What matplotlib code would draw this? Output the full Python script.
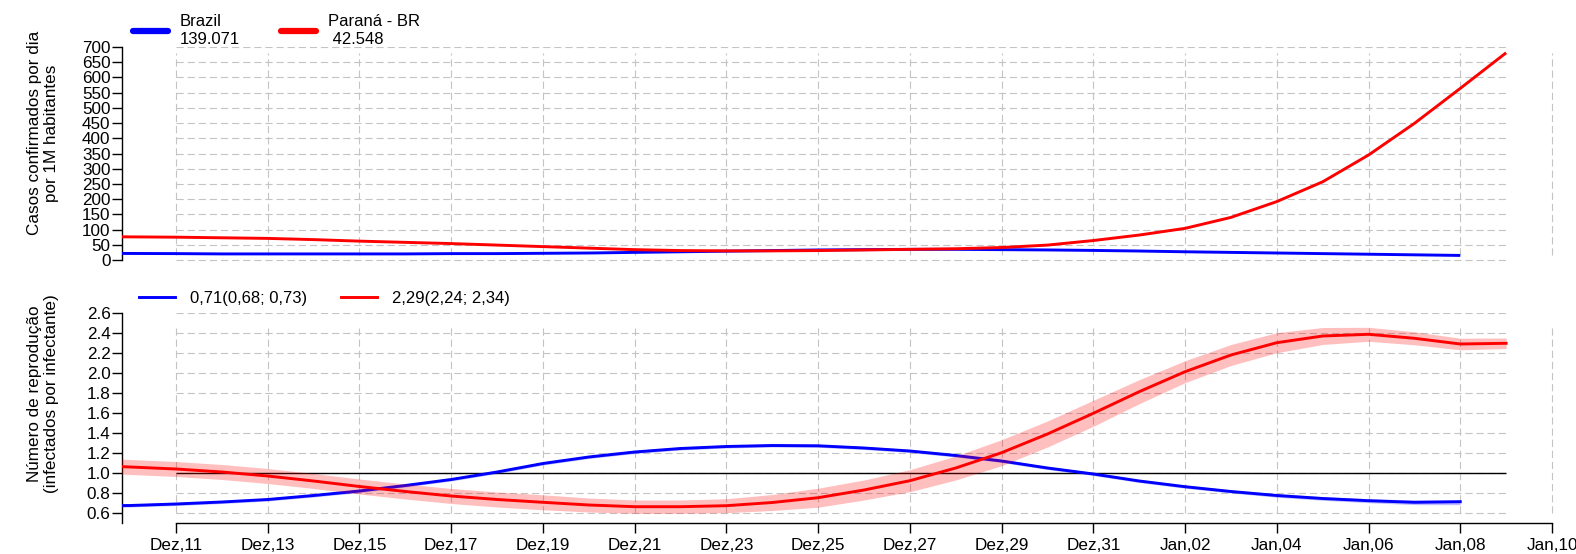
import numpy as np
import pandas as pd
import matplotlib
matplotlib.use('Agg')
import matplotlib.pyplot as plt
import matplotlib.dates as mdates

plt.rcParams['font.family'] = ['Liberation Sans', 'DejaVu Sans']
plt.rcParams['font.size'] = 12.3

# ---------------------------------------------------------------------------
# Data
# ---------------------------------------------------------------------------
dates_pr = pd.date_range('2021-12-09', '2022-01-09', freq='D')   # Paraná
dates_br = pd.date_range('2021-12-09', '2022-01-08', freq='D')   # Brazil

# daily confirmed cases per 1M inhabitants
cases_br = [22, 21.5, 21, 20, 20, 20, 20, 20, 21, 21, 22, 23, 25, 27, 29, 31,
            33, 34, 35, 35, 34, 33, 31.5,
            29.5, 27, 25, 23, 21, 19, 17, 15]
cases_pr = [77, 76, 75, 73, 71, 67, 62, 58, 54, 49, 44, 39, 34, 31, 30, 30,
            31, 33, 35, 37, 41, 49, 64,
            82, 104, 140, 192, 257, 345, 449, 564, 681]

# reproduction number with interval
r_br = [0.67, 0.675, 0.69, 0.71, 0.735, 0.775, 0.82, 0.875, 0.935, 1.01, 1.095,
        1.16, 1.21, 1.245, 1.265, 1.275, 1.272, 1.25, 1.22, 1.175, 1.12, 1.05,
        0.99, 0.92, 0.863, 0.815, 0.775, 0.745, 0.723, 0.707, 0.713]
r_br_lo = [0.655, 0.66, 0.675, 0.695, 0.72, 0.76, 0.805, 0.86, 0.92, 0.995, 1.08,
           1.145, 1.195, 1.23, 1.25, 1.26, 1.257, 1.235, 1.205, 1.16, 1.105, 1.035,
           0.975, 0.905, 0.848, 0.80, 0.758, 0.727, 0.703, 0.684, 0.683]
r_br_hi = [0.685, 0.69, 0.705, 0.725, 0.75, 0.79, 0.835, 0.89, 0.95, 1.025, 1.11,
           1.175, 1.225, 1.26, 1.28, 1.29, 1.287, 1.265, 1.235, 1.19, 1.135, 1.065,
           1.005, 0.935, 0.878, 0.83, 0.792, 0.763, 0.743, 0.73, 0.73]

r_pr = [1.08, 1.06, 1.04, 1.01, 0.97, 0.92, 0.865, 0.815, 0.77, 0.735, 0.707,
        0.68, 0.663, 0.663, 0.673, 0.705, 0.753, 0.83, 0.923, 1.05, 1.203, 1.39,
        1.597, 1.813, 2.013, 2.18, 2.303, 2.37, 2.387, 2.347, 2.29, 2.297]
r_pr_lo = [1.005, 0.985, 0.965, 0.935, 0.895, 0.845, 0.79, 0.74, 0.695, 0.66, 0.632,
           0.61, 0.596, 0.596, 0.603, 0.625, 0.658, 0.73, 0.813, 0.93, 1.073, 1.26,
           1.467, 1.693, 1.903, 2.075, 2.203, 2.285, 2.317, 2.282, 2.232, 2.244]
r_pr_hi = [1.155, 1.135, 1.115, 1.085, 1.045, 0.995, 0.94, 0.89, 0.845, 0.81, 0.782,
           0.75, 0.73, 0.73, 0.743, 0.785, 0.848, 0.93, 1.033, 1.17, 1.333, 1.52,
           1.727, 1.933, 2.123, 2.285, 2.403, 2.455, 2.457, 2.412, 2.348, 2.35]

legend_top = ['Brazil\n139.071', 'Paraná - BR\n 42.548']
legend_bottom = ['0,71(0,68; 0,73)', '2,29(2,24; 2,34)']
ylabel_top = 'Casos confirmados por dia\npor 1M habitantes'
ylabel_bottom = 'Número de reprodução\n(infectados por infectante)'

tick_dates = pd.date_range('2021-12-11', '2022-01-10', freq='2D')
month_pt = {12: 'Dez', 1: 'Jan'}
tick_labels = [f'{month_pt[d.month]},{d.day:02d}' for d in tick_dates]

BLUE = '#0000ff'
RED = '#ff0000'
GRID = '#c4c4c4'

# ---------------------------------------------------------------------------
# Figure
# ---------------------------------------------------------------------------
W, H = 1576, 554
fig = plt.figure(figsize=(W / 100, H / 100), dpi=100)

x_left = mdates.date2num(tick_dates[0]) - 54 / 45.87
x_right = mdates.date2num(tick_dates[-1]) + 24 / 45.87

ax1 = fig.add_axes([122 / W, 1 - 262 / H, (W - 122) / W, 215 / H])
ax2 = fig.add_axes([122 / W, 1 - 523 / H, (W - 122) / W, 210 / H])

grid_kw = dict(color=GRID, lw=0.8, linestyle=(0, (6.5, 3.5)), zorder=1)
x_grid_end = dates_pr[-1]

# --- top panel: confirmed cases ---
top_ticks = np.arange(0, 701, 50)
ax1.hlines(top_ticks, tick_dates[0], x_grid_end, **grid_kw)
ax1.vlines(tick_dates, min(cases_br + cases_pr), max(cases_br + cases_pr), **grid_kw)
ax1.plot(dates_br, cases_br, color=BLUE, lw=2.1, zorder=3, label=legend_top[0],
         solid_capstyle='butt')
ax1.plot(dates_pr, cases_pr, color=RED, lw=2.1, zorder=4, label=legend_top[1],
         solid_capstyle='butt')
ax1.set_xlim(x_left, x_right)
ax1.set_ylim(-6.57, 700)
ax1.set_yticks(top_ticks)
ax1.set_yticklabels([str(v) for v in top_ticks])
ax1.set_xticks([])
for s in ['top', 'right', 'bottom']:
    ax1.spines[s].set_visible(False)
ax1.spines['left'].set_bounds(0, 700)
ax1.set_ylabel(ylabel_top)
ax1.yaxis.set_label_coords(-63 / (W - 122), 0.60)

# --- bottom panel: reproduction number ---
bot_ticks = np.round(np.arange(0.6, 2.61, 0.2), 1)
all_lo = r_br_lo + r_pr_lo
all_hi = r_br_hi + r_pr_hi
ax2.hlines(bot_ticks, tick_dates[0], x_grid_end, **grid_kw)
ax2.vlines(tick_dates, min(all_lo), max(all_hi), **grid_kw)
ax2.hlines(1.0, tick_dates[0], x_grid_end, color='black', lw=1.0, zorder=2)

ax2.fill_between(dates_br, r_br_lo, r_br_hi, color=BLUE, alpha=0.25, lw=0, zorder=3)
ax2.plot(dates_br, r_br, color=BLUE, lw=2.1, zorder=4, label=legend_bottom[0])
ax2.fill_between(dates_pr, r_pr_lo, r_pr_hi, color=RED, alpha=0.25, lw=0, zorder=5)
ax2.plot(dates_pr, r_pr, color=RED, lw=2.1, zorder=6, label=legend_bottom[1])

ax2.set_xlim(x_left, x_right)
ax2.set_ylim(0.5, 2.6)
ax2.set_yticks(bot_ticks)
ax2.set_yticklabels([f'{v:.1f}' for v in bot_ticks])
ax2.set_xticks(tick_dates)
ax2.set_xticklabels(tick_labels)
for s in ['top', 'right']:
    ax2.spines[s].set_visible(False)
ax2.spines['bottom'].set_bounds(mdates.date2num(tick_dates[0]),
                                mdates.date2num(tick_dates[-1]))
ax2.set_ylabel(ylabel_bottom)
ax2.yaxis.set_label_coords(-63 / (W - 122), 0.614)

for ax in (ax1, ax2):
    ax.tick_params(axis='y', length=7.2, width=1.0, pad=1)
    ax.tick_params(axis='x', length=7.2, width=1.0, pad=3.5)
    for s in ax.spines.values():
        s.set_linewidth(1.0)
    ax.set_facecolor('none')

# --- legends ---
h1, l1 = ax1.get_legend_handles_labels()
leg1 = fig.legend(h1, l1, loc='center left', bbox_to_anchor=(133 / W, 1 - 30.5 / H),
                  ncol=2, frameon=False, borderpad=0, borderaxespad=0,
                  handlelength=2.1, handletextpad=0.72, columnspacing=2.45,
                  fontsize=12)
for line in leg1.get_lines():
    line.set_linewidth(4.5)
    line.set_solid_capstyle('round')

h2, l2 = ax2.get_legend_handles_labels()
fig.legend(h2, l2, loc='center left', bbox_to_anchor=(139 / W, 1 - 298 / H),
           ncol=2, frameon=False, borderpad=0, borderaxespad=0,
           handlelength=2.15, handletextpad=0.9, columnspacing=2.05,
           fontsize=12)

fig.savefig('out.png', dpi=100)
